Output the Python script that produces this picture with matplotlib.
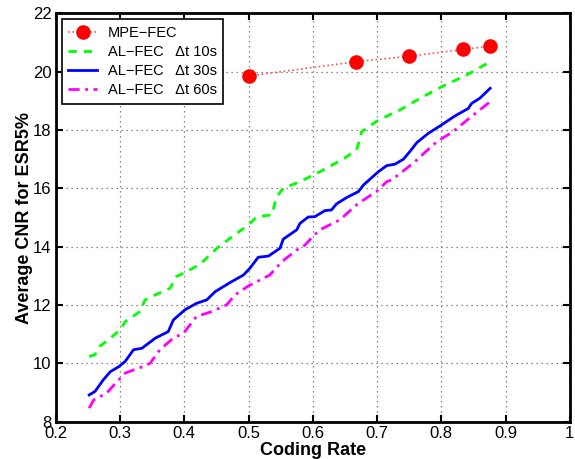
import matplotlib.pyplot as plt

plt.rcParams['font.family'] = ['Liberation Sans', 'DejaVu Sans']

# MPE-FEC
mpe_x = [0.5, 2 / 3, 0.75, 5 / 6, 0.875]
mpe_y = [19.85, 20.34, 20.53, 20.76, 20.87]

# AL-FEC dt 10s
g_x = [0.252, 0.261, 0.268, 0.282, 0.300, 0.308, 0.331, 0.339, 0.355, 0.378,
       0.388, 0.404, 0.425, 0.451, 0.476, 0.500, 0.513, 0.536, 0.544, 0.554,
       0.580, 0.611, 0.647, 0.668, 0.673, 0.676, 0.702, 0.736, 0.767, 0.803,
       0.839, 0.876]
g_y = [10.24, 10.30, 10.58, 10.81, 11.15, 11.43, 11.78, 12.18, 12.35, 12.58,
       12.98, 13.15, 13.41, 13.95, 14.37, 14.75, 15.03, 15.09, 15.72, 16.00,
       16.23, 16.57, 17.00, 17.32, 17.66, 17.94, 18.34, 18.69, 19.09, 19.51,
       19.88, 20.34]

# AL-FEC dt 30s
b_x = [0.252, 0.261, 0.274, 0.285, 0.298, 0.308, 0.321, 0.334, 0.355, 0.375,
       0.383, 0.401, 0.419, 0.435, 0.448, 0.471, 0.492, 0.502, 0.515, 0.531,
       0.549, 0.554, 0.575, 0.580, 0.593, 0.603, 0.619, 0.629, 0.637, 0.653,
       0.671, 0.679, 0.702, 0.715, 0.728, 0.741, 0.751, 0.762, 0.780, 0.798,
       0.821, 0.842, 0.847, 0.860, 0.876]
b_y = [8.92, 9.04, 9.44, 9.72, 9.89, 10.07, 10.47, 10.52, 10.87, 11.09,
       11.49, 11.84, 12.06, 12.18, 12.46, 12.77, 13.03, 13.26, 13.64, 13.68,
       13.95, 14.26, 14.58, 14.80, 15.02, 15.03, 15.24, 15.26, 15.47, 15.69,
       15.89, 16.12, 16.57, 16.78, 16.83, 17.00, 17.26, 17.57, 17.89, 18.14,
       18.48, 18.74, 18.91, 19.09, 19.43]

# AL-FEC dt 60s
m_x = [0.252, 0.259, 0.279, 0.298, 0.308, 0.339, 0.347, 0.362, 0.383, 0.399,
       0.419, 0.443, 0.466, 0.479, 0.500, 0.533, 0.552, 0.575, 0.588, 0.600,
       0.611, 0.642, 0.671, 0.699, 0.715, 0.723, 0.756, 0.793, 0.818, 0.845,
       0.876]
m_y = [8.47, 8.75, 8.98, 9.44, 9.67, 9.92, 10.01, 10.47, 10.87, 11.04,
       11.61, 11.78, 12.01, 12.35, 12.66, 13.03, 13.49, 13.89, 14.06, 14.35,
       14.58, 14.92, 15.49, 15.89, 16.23, 16.29, 16.86, 17.60, 17.94, 18.43,
       18.97]

fig = plt.figure(figsize=(5.75, 4.59), dpi=100)
ax = fig.add_axes([0.097, 0.081, 0.894, 0.890])

ax.plot(mpe_x, mpe_y, ':', color='#ff5050', lw=1.2, marker='o', ms=9.5,
        mfc='red', mec='red', label='MPE\u2212FEC')
ax.plot(g_x, g_y, '--', color='#00ff00', lw=2, dashes=(3, 2.5), label='AL\u2212FEC   \u0394t 10s')
ax.plot(b_x, b_y, '-', color='#0000ff', lw=2, label='AL\u2212FEC   \u0394t 30s')
ax.plot(m_x, m_y, '-.', color='#ff00ff', lw=2, dashes=(4, 2, 1, 2), label='AL\u2212FEC   \u0394t 60s')

ax.set_xlim(0.2, 1)
ax.set_ylim(8, 22)
ax.set_xticks([0.2, 0.3, 0.4, 0.5, 0.6, 0.7, 0.8, 0.9, 1])
ax.set_xticklabels(['0.2', '0.3', '0.4', '0.5', '0.6', '0.7', '0.8', '0.9', '1'])
ax.set_yticks(range(8, 23, 2))

ax.grid(True, linestyle=(0, (1, 3)), color='#666666', lw=0.9)
ax.tick_params(direction='in', top=True, right=True, length=5, width=1.5,
               labelsize=12, pad=3)
for s in ax.spines.values():
    s.set_linewidth(2)

ax.set_xlabel('Coding Rate', fontsize=13, fontweight='bold', labelpad=1)
ax.set_ylabel('Average CNR for ESR5%', fontsize=13, fontweight='bold', labelpad=0)

leg = ax.legend(loc='upper left', fontsize=10.5, fancybox=False, framealpha=1,
                edgecolor='black', borderaxespad=0.4, handlelength=2.0,
                handletextpad=0.7, labelspacing=0.35, borderpad=0.45)
leg.get_frame().set_linewidth(1.2)

fig.savefig('out.png', dpi=100)
